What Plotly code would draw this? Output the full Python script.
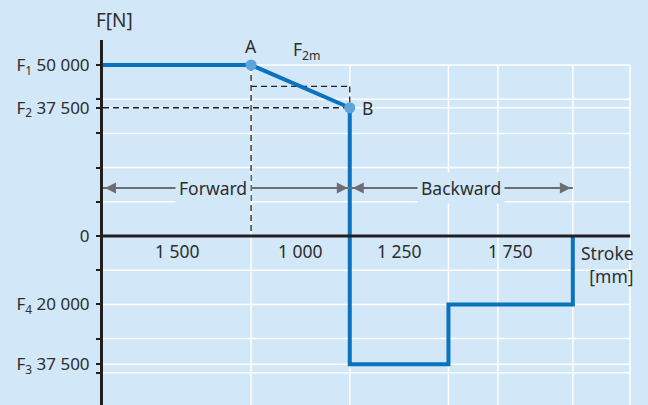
import numpy as np
import plotly.graph_objects as go

# --- data -------------------------------------------------------------
stroke_mm = [1500, 1000, 1250, 1750]          # stroke segment labels
drawn_len = [1.5, 1.0, 1.0, 1.26]             # schematic widths (diagram not to scale)

F1 = 50000
F2 = 37500
F3 = -37500
F4 = -20000
F2m = (F1 + F2) / 2

tick_vals = [50000, 40000, 37500, 30000, 20000, 10000, 0,
             -10000, -20000, -30000, -37500, -40000]
tick_text = ["F<sub>1</sub> 50 000", "", "F<sub>2</sub> 37 500", "", "", "", "0",
             "", "F<sub>4</sub> 20 000", "", "F<sub>3</sub> 37 500", ""]

# --- style ------------------------------------------------------------
BG = "#d2e7f7"
BLUE = "#0b72bd"
DOT = "#5ba5dc"
TXT = "#2e2e2e"
GREY = "#6d6e71"
FONT = "Noto Sans"
FS = 17.5

xb = np.concatenate([[0], np.cumsum(drawn_len)])
x_end = 5.34
y_lo, y_hi = -49415, 57310
arrow_y = 14000

fig = go.Figure()

# force / stroke profile
fig.add_trace(go.Scatter(
    x=[xb[0], xb[1], xb[2], xb[2], xb[3], xb[3], xb[4], xb[4]],
    y=[F1, F1, F2, F3, F3, F4, F4, 0],
    mode="lines", line=dict(color=BLUE, width=4),
    hoverinfo="skip", showlegend=False,
))
fig.add_trace(go.Scatter(
    x=[xb[1], xb[2]], y=[F1, F2], mode="markers",
    marker=dict(color=DOT, size=11), hoverinfo="skip", showlegend=False,
))

shapes = []
# white grid
for yv in tick_vals:
    shapes.append(dict(type="line", xref="x", yref="y", x0=0, x1=x_end, y0=yv, y1=yv,
                       line=dict(color="white", width=1.5), layer="below"))
for xv in [xb[1], xb[2], xb[3], 4.0, xb[4], x_end]:
    shapes.append(dict(type="line", xref="x", yref="y", x0=xv, x1=xv, y0=F1, y1=y_lo,
                       line=dict(color="white", width=1.5), layer="below"))
# stroke axis
shapes.append(dict(type="line", xref="x", yref="y", x0=0, x1=x_end, y0=0, y1=0,
                   line=dict(color="#231f20", width=3)))
# dashed helper lines
dash = dict(color="#231f20", width=1.3, dash="6px,4px")
for x0, y0, x1, y1 in [(0, F2, xb[2], F2), (xb[1], F1, xb[1], 0),
                       (xb[1], F2m, xb[2], F2m), (xb[2], F2m, xb[2], F2)]:
    shapes.append(dict(type="line", xref="x", yref="y", x0=x0, x1=x1, y0=y0, y1=y1,
                       line=dash, layer="below"))
# forward / backward guide lines
for x0, x1 in [(xb[0], xb[2]), (xb[2], xb[4])]:
    shapes.append(dict(type="line", xref="x", yref="y", x0=x0, x1=x1,
                       y0=arrow_y, y1=arrow_y, line=dict(color=GREY, width=2)))

ann = []
# arrow heads
for tip, tail in [(xb[0] + 0.02, xb[0] + 0.3), (xb[2] - 0.02, xb[2] - 0.3),
                  (xb[2] + 0.03, xb[2] + 0.3), (xb[4] - 0.02, xb[4] - 0.3)]:
    ann.append(dict(x=tip, y=arrow_y, ax=tail, ay=arrow_y, axref="x", ayref="y",
                    xref="x", yref="y", text="", showarrow=True, arrowhead=2,
                    arrowsize=1.1, arrowwidth=2, arrowcolor=GREY))
ann.append(dict(x=(xb[0] + xb[2]) / 2, y=arrow_y, xshift=-13, text="Forward",
                showarrow=False, bgcolor=BG, borderpad=3,
                font=dict(size=FS, color=TXT, family=FONT)))
ann.append(dict(x=(xb[2] + xb[4]) / 2, y=arrow_y, text="Backward",
                showarrow=False, bgcolor=BG, borderpad=3,
                font=dict(size=FS, color=TXT, family=FONT)))

# stroke segment labels
for i, s in enumerate(stroke_mm):
    ann.append(dict(x=(xb[i] + xb[i + 1]) / 2, y=0, yanchor="top", yshift=-1,
                    text=f"{s:,}".replace(",", " "), showarrow=False,
                    font=dict(size=FS, color=TXT, family=FONT)))

ann += [
    dict(x=xb[1], y=F1, yanchor="bottom", yshift=5, text="A", showarrow=False,
         font=dict(size=FS, color=TXT, family=FONT)),
    dict(x=xb[2], y=F2, xanchor="left", xshift=10, text="B", showarrow=False,
         font=dict(size=FS, color=TXT, family=FONT)),
    dict(x=(xb[1] + xb[2]) / 2, y=F1, xshift=7, yanchor="bottom", yshift=-1,
         text="F<sub>2m</sub>", showarrow=False,
         font=dict(size=FS, color=TXT, family=FONT)),
    dict(xref="paper", yref="paper", x=0, y=1, xanchor="center", xshift=11,
         yanchor="bottom", yshift=5,
         text="F[N]", showarrow=False, font=dict(size=19, color=TXT, family=FONT)),
    dict(xref="paper", x=1, y=0, xanchor="right", yanchor="top", yshift=-3,
         align="right", text="Stroke<br>[mm]", showarrow=False,
         font=dict(size=FS, color=TXT, family=FONT)),
]

fig.update_layout(
    width=648, height=405,
    paper_bgcolor=BG, plot_bgcolor=BG,
    margin=dict(l=103, r=12, t=40, b=0, autoexpand=False),
    font=dict(family=FONT, color=TXT, size=FS),
    shapes=shapes, annotations=ann,
    showlegend=False,
)
fig.update_xaxes(range=[0, 5.4], visible=False, automargin=False)
fig.update_yaxes(
    range=[y_lo, y_hi], showgrid=False, zeroline=False, automargin=False,
    showline=True, linecolor="#231f20", linewidth=3,
    ticks="outside", ticklen=4, tickwidth=2, tickcolor="#231f20",
    tickvals=tick_vals, ticktext=tick_text, ticklabelstandoff=3,
    tickfont=dict(size=17, color=TXT, family=FONT),
)

fig.write_html("out.html", config={"displayModeBar": False},
               post_script="document.body.style.margin='0';document.body.style.overflow='hidden';")
